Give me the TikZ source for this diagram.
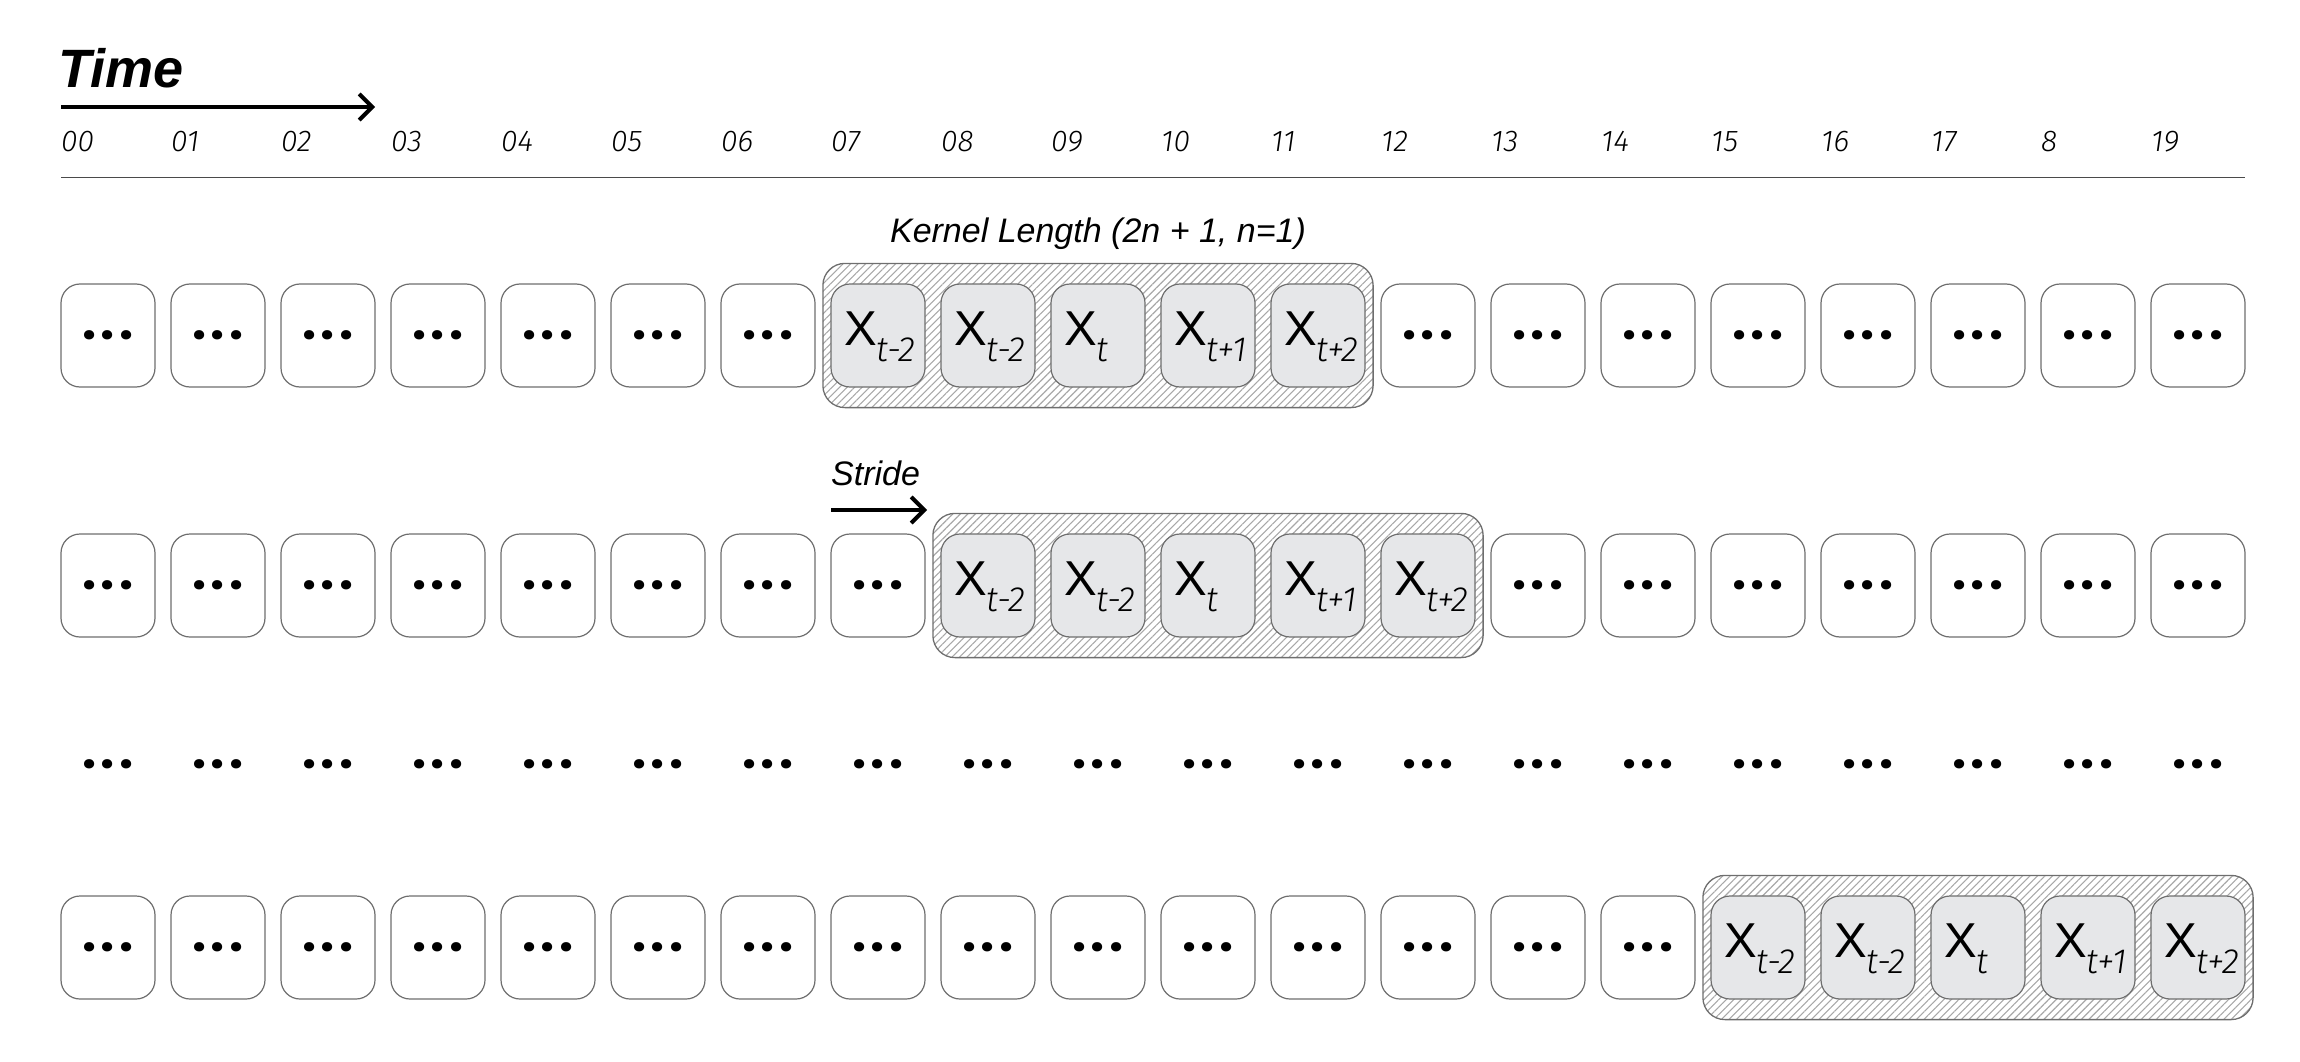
\documentclass[tikz,border=0pt]{standalone}
\usepackage{fontspec}
\setmainfont{Liberation Sans}
\newfontfamily\lightfont{Fira Sans}[UprightFont=* Light, ItalicFont=* Light Italic]
\newfontfamily\dotfont{Poppins}[UprightFont=* Bold]
\usetikzlibrary{arrows.meta,patterns.meta,fit,backgrounds}
\definecolor{cellborder}{HTML}{6E6E6E}
\definecolor{cellfill}{HTML}{E6E7E9}
\definecolor{hatch}{HTML}{A8A8A8}
\definecolor{axis}{HTML}{4A4A4A}
\newcommand{\celldots}{.\kern4.5pt.\kern4.5pt.}
\begin{document}
\begin{tikzpicture}[x=1pt,y=-1pt,
  cell/.style={draw=cellborder, line width=1.2pt, rounded corners=19pt,
    minimum width=94pt, minimum height=103pt, inner sep=0pt, fill=white,
    font=\dotfont\fontsize{50}{50}\selectfont},
  kcell/.style={cell, fill=cellfill},
  freedots/.style={inner sep=0pt, font=\dotfont\fontsize{50}{50}\selectfont},
  kernelbox/.style={draw=cellborder, line width=1.3pt, rounded corners=22pt,
    inner xsep=7.5pt, inner ysep=20pt,
    pattern={Lines[angle=45,distance=5.3pt,line width=1.1pt]}, pattern color=hatch},
  xlabel/.style={anchor=base west, inner sep=0pt},
  num/.style={anchor=base west, inner sep=0pt, font=\lightfont\itshape\fontsize{30}{30}\selectfont},
  caption/.style={inner sep=0pt, font=\itshape\fontsize{34}{34}\selectfont},
  bigarrow/.style={line width=4pt, -{Straight Barb[length=13pt,width=26pt,line width=4pt]}}
]
\useasboundingbox (0,0) rectangle (2300,1062);

% title and time arrow
\node[anchor=base west, inner sep=0pt, font=\bfseries\itshape\fontsize{54}{54}\selectfont] (title) at (58,88) {Time};
\coordinate (ta0) at (61,107);
\coordinate (ta1) at (375,107);
\draw[bigarrow] (ta0) -- (ta1);

% time step numbers
\foreach \i/\t in {0/00,1/01,2/02,3/03,4/04,5/05,6/06,7/07,8/08,9/09,10/10,11/11,12/12,13/13,14/14,15/15,16/16,17/17,18/8,19/19}
  \node[num] (n\i) at (61+110*\i,152) {\t};

% separator line
\coordinate (la) at (61,177.5);
\coordinate (lb) at (2245,177.5);
\draw[line width=1.5pt, draw=axis] (la) -- (lb);

% cell rows
\foreach \r/\y/\s in {1/335.5/7, 2/585.5/8, 4/947.5/15} {
  \foreach \i in {0,...,19} {
    \pgfmathtruncatemacro\k{and(\i>=\s,\i<=\s+4)}
    \ifnum\k=1
      \node[kcell] (c\r-\i) at (108+110*\i,\y) {};
    \else
      \node[cell] (c\r-\i) at (108+110*\i,\y) {\celldots};
    \fi
  }
  \foreach \j/\sub in {0/t-2,1/t-2,2/t,3/t+1,4/t+2} {
    \pgfmathtruncatemacro\c{\s+\j}
    \node[xlabel] (l\r-\c) at ([xshift=-34pt,yshift=-10pt]c\r-\c.center)
      {{\fontsize{49}{49}\selectfont X}\raisebox{-16pt}{\lightfont\itshape\fontsize{35}{35}\selectfont \sub}};
  }
}

% kernel windows
\begin{scope}[on background layer]
  \node[kernelbox, fit=(c1-7)(c1-11)] (k1) {};
  \node[kernelbox, fit=(c2-8)(c2-12)] (k2) {};
  \node[kernelbox, fit=(c4-15)(c4-19)] (k4) {};
\end{scope}

% labels
\node[caption, anchor=base] (klabel) at (1098,242) {Kernel Length (2n + 1, n=1)};
\node[caption, anchor=base west] (stride) at (831,485) {Stride};
\coordinate (sa0) at (831,510);
\coordinate (sa1) at (927,510);
\draw[bigarrow] (sa0) -- (sa1);

% free dots row
\foreach \i in {0,...,19}
  \node[freedots] (d\i) at (108+110*\i,764) {\celldots};

\end{tikzpicture}
\end{document}
